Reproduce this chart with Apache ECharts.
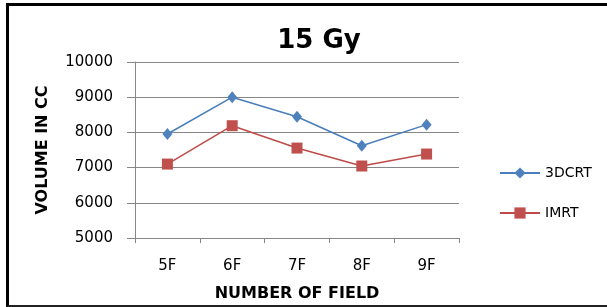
<!DOCTYPE html>
<html>
<head>
<meta charset="UTF-8">
<title>15 Gy</title>
<script src="https://cdn.jsdelivr.net/npm/echarts@6/dist/echarts.min.js"></script>
<style>
  html, body { margin: 0; padding: 0; background: #fff; overflow: hidden; }
  #chart { position: absolute; left: 0; top: 0; width: 607px; height: 307px; }
  #frame {
    position: absolute; left: 6px; top: 3px; width: 598px; height: 299px;
    border-left: 3px solid #000; border-top: 3px solid #000; border-bottom: 2px solid #222;
    pointer-events: none;
  }
</style>
</head>
<body>
<div id="chart"></div>
<div id="frame"></div>
<script>
var fields = ['5F', '6F', '7F', '8F', '9F'];
var crt3d = [7955, 9000, 8445, 7620, 8220];
var imrt = [7100, 8190, 7555, 7045, 7385];

var font = 'DejaVu Sans';
var chart = echarts.init(document.getElementById('chart'));
chart.setOption({
  animation: false,
  title: {
    text: '15 Gy', left: 314, top: 23, textAlign: 'center',
    textStyle: {fontFamily: font, fontSize: 26, fontWeight: 'bold', color: '#000'}
  },
  legend: {
    orient: 'vertical', left: 494, top: 161, itemWidth: 40, itemHeight: 14, itemGap: 26,
    textStyle: {fontFamily: font, fontSize: 14, color: '#000'},
    data: ['3DCRT', 'IMRT']
  },
  grid: {left: 135, right: 148, top: 62, bottom: 69},
  xAxis: {
    type: 'category', data: fields, boundaryGap: true,
    name: 'NUMBER OF FIELD', nameLocation: 'middle', nameGap: 48,
    nameTextStyle: {fontFamily: font, fontSize: 16, fontWeight: 'bold', color: '#000'},
    axisLine: {lineStyle: {color: '#868686'}},
    axisTick: {show: true, length: 5, inside: false, lineStyle: {color: '#868686'}},
    axisLabel: {fontFamily: font, fontSize: 15, color: '#000', margin: 21}
  },
  yAxis: {
    type: 'value', min: 5000, max: 10000, interval: 1000,
    name: 'VOLUME IN CC', nameLocation: 'middle', nameGap: 84, nameRotate: 90,
    nameTextStyle: {fontFamily: font, fontSize: 16, fontWeight: 'bold', color: '#000'},
    axisLine: {show: true, lineStyle: {color: '#868686'}},
    axisTick: {show: true, length: 8, lineStyle: {color: '#868686'}},
    splitLine: {lineStyle: {color: '#868686'}},
    axisLabel: {fontFamily: font, fontSize: 15, color: '#000', margin: 22,
      formatter: function (v) { return String(v); }}
  },
  series: [
    {
      name: '3DCRT', type: 'line', data: crt3d,
      symbol: 'diamond', symbolSize: [10, 12],
      itemStyle: {color: '#4F81BD'}, lineStyle: {color: '#4A7EBB', width: 1.5}
    },
    {
      name: 'IMRT', type: 'line', data: imrt,
      symbol: 'rect', symbolSize: 11,
      itemStyle: {color: '#C0504D'}, lineStyle: {color: '#BE4B48', width: 1.5}
    }
  ]
});
</script>
</body>
</html>
